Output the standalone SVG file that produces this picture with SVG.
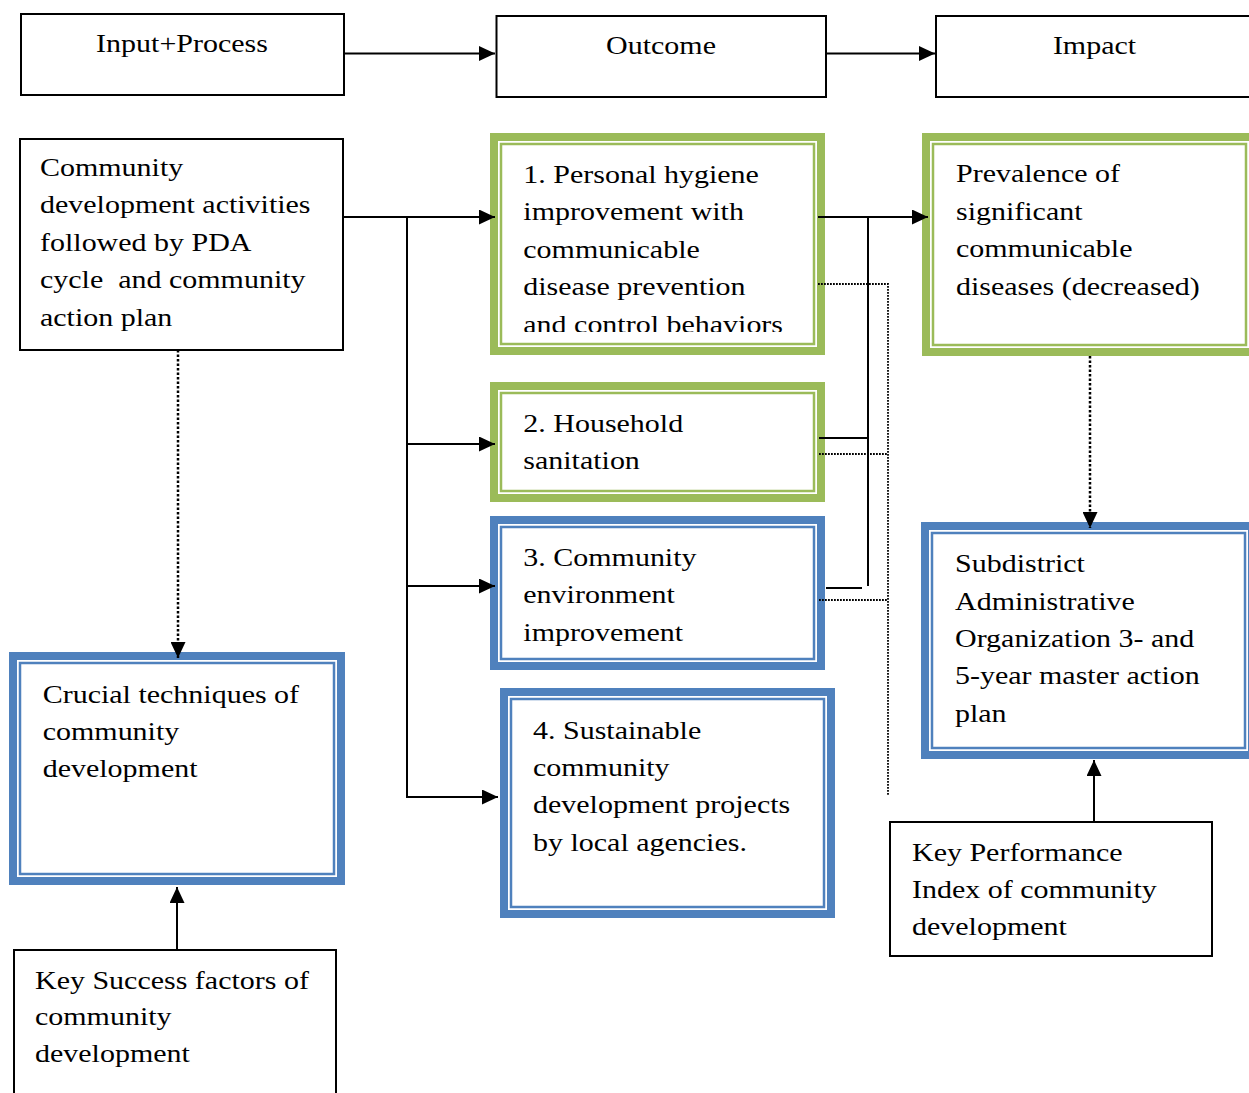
<svg xmlns="http://www.w3.org/2000/svg" width="1249" height="1093" viewBox="0 0 1249 1093">
<style>
.t{font-family:"Liberation Serif","Times New Roman",serif;font-size:25.2px;fill:#000}
.box{fill:#fff;stroke:#000;stroke-width:2}
.gk{fill:#fff;stroke:#9BBB59;stroke-width:8}
.gn{fill:none;stroke:#9BBB59;stroke-width:2.5}
.bk{fill:#fff;stroke:#4F81BD;stroke-width:8}
.bn{fill:none;stroke:#4F81BD;stroke-width:2.5}
.ln{fill:none;stroke:#000;stroke-width:2}
.dot{fill:none;stroke:#000;stroke-width:2.5;stroke-dasharray:2.5 2}
.fd{fill:none;stroke:#000;stroke-width:1.8;stroke-dasharray:1.8 1.2}
</style>
<defs>
<marker id="ah" markerUnits="userSpaceOnUse" markerWidth="16" markerHeight="15" refX="16" refY="7.5" orient="auto"><path d="M0,0 L16,7.5 L0,15 z" fill="#000"/></marker>
<clipPath id="c1"><rect x="501" y="144" width="313" height="188"/></clipPath>
</defs>

<g id="input-process">
<rect class="box" x="21" y="14" width="323" height="81"/>
<text class="t" text-anchor="middle" transform="translate(182,51.5) scale(1.19,1)">Input+Process</text>
</g>
<g id="outcome">
<rect class="box" x="496.5" y="16" width="329.5" height="81"/>
<text class="t" text-anchor="middle" transform="translate(661,53.5) scale(1.19,1)">Outcome</text>
</g>
<g id="impact">
<rect class="box" x="936" y="16" width="330" height="81"/>
<text class="t" text-anchor="middle" transform="translate(1094.5,53.5) scale(1.19,1)">Impact</text>
</g>

<g id="community-activities">
<rect class="box" x="20" y="139" width="323" height="211"/>
<text class="t" xml:space="preserve" transform="translate(40,175.7) scale(1.19,1)"><tspan x="0" y="0">Community</tspan><tspan x="0" y="37.5">development activities</tspan><tspan x="0" y="75">followed by PDA</tspan><tspan x="0" y="112.5">cycle  and community</tspan><tspan x="0" y="150">action plan</tspan></text>
</g>

<g id="outcome-1">
<rect class="gk" x="494" y="137" width="327" height="214"/>
<rect class="gn" x="501" y="144" width="313" height="200"/>
<g clip-path="url(#c1)">
<text class="t" transform="translate(523.3,183) scale(1.19,1)"><tspan x="0" y="0">1. Personal hygiene</tspan><tspan x="0" y="37.5">improvement with</tspan><tspan x="0" y="75">communicable</tspan><tspan x="0" y="112.5">disease prevention</tspan><tspan x="0" y="150">and control behaviors</tspan></text>
</g>
</g>

<g id="outcome-2">
<rect class="gk" x="494" y="386" width="327" height="112"/>
<rect class="gn" x="501" y="393" width="313" height="98"/>
<text class="t" transform="translate(523.3,431.5) scale(1.19,1)"><tspan x="0" y="0">2. Household</tspan><tspan x="0" y="37.5">sanitation</tspan></text>
</g>

<g id="outcome-3">
<rect class="bk" x="494" y="520" width="327" height="146"/>
<rect class="bn" x="501" y="527" width="313" height="132"/>
<text class="t" transform="translate(523.3,566) scale(1.19,1)"><tspan x="0" y="0">3. Community</tspan><tspan x="0" y="37.5">environment</tspan><tspan x="0" y="75">improvement</tspan></text>
</g>

<g id="outcome-4">
<rect class="bk" x="504" y="692" width="327" height="222"/>
<rect class="bn" x="511" y="699" width="313" height="208"/>
<text class="t" transform="translate(533,738.5) scale(1.19,1)"><tspan x="0" y="0">4. Sustainable</tspan><tspan x="0" y="37.5">community</tspan><tspan x="0" y="75">development projects</tspan><tspan x="0" y="112.5">by local agencies.</tspan></text>
</g>

<g id="crucial-techniques">
<rect class="bk" x="13" y="656" width="328" height="225"/>
<rect class="bn" x="20" y="663" width="314" height="211"/>
<text class="t" transform="translate(42.7,702.5) scale(1.19,1)"><tspan x="0" y="0">Crucial techniques of</tspan><tspan x="0" y="37.5">community</tspan><tspan x="0" y="75">development</tspan></text>
</g>

<g id="key-success">
<rect class="box" x="14" y="950" width="322" height="160"/>
<text class="t" transform="translate(35,988.5) scale(1.19,1)"><tspan x="0" y="0">Key Success factors of</tspan><tspan x="0" y="37">community</tspan><tspan x="0" y="74">development</tspan></text>
</g>

<g id="prevalence">
<rect class="gk" x="926" y="137" width="327" height="215"/>
<rect class="gn" x="933" y="144" width="313" height="201"/>
<text class="t" transform="translate(956,182) scale(1.19,1)"><tspan x="0" y="0">Prevalence of</tspan><tspan x="0" y="37.7">significant</tspan><tspan x="0" y="75.4">communicable</tspan><tspan x="0" y="113.1">diseases (decreased)</tspan></text>
</g>

<g id="subdistrict-plan">
<rect class="bk" x="925" y="526" width="327" height="229"/>
<rect class="bn" x="932" y="533" width="313" height="215"/>
<text class="t" transform="translate(955,572.3) scale(1.19,1)"><tspan x="0" y="0">Subdistrict</tspan><tspan x="0" y="37.4">Administrative</tspan><tspan x="0" y="74.8">Organization 3- and</tspan><tspan x="0" y="112.2">5-year master action</tspan><tspan x="0" y="149.6">plan</tspan></text>
</g>

<g id="key-performance">
<rect class="box" x="890" y="822" width="322" height="134"/>
<text class="t" transform="translate(912,860.5) scale(1.19,1)"><tspan x="0" y="0">Key Performance</tspan><tspan x="0" y="37.3">Index of community</tspan><tspan x="0" y="74.6">development</tspan></text>
</g>

<g id="connectors">
<path class="ln" d="M344,53.5 H495" marker-end="url(#ah)"/>
<path class="ln" d="M826,53.5 H935" marker-end="url(#ah)"/>
<path class="ln" d="M343,217 H495" marker-end="url(#ah)"/>
<path class="ln" d="M407,217 V797 H498" marker-end="url(#ah)"/>
<path class="ln" d="M407,444 H495" marker-end="url(#ah)"/>
<path class="ln" d="M407,586 H495" marker-end="url(#ah)"/>
<path class="dot" d="M178,350 V658" marker-end="url(#ah)"/>
<path class="ln" d="M177,950 V887" marker-end="url(#ah)"/>
<path class="ln" d="M818,217 H928" marker-end="url(#ah)"/>
<path class="ln" d="M868,217 V586"/>
<path class="ln" d="M819,438 H868"/>
<path class="ln" d="M826,588 H862"/>
<path class="fd" d="M818,284 H888 V796"/>
<path class="fd" d="M819,454 H888"/>
<path class="fd" d="M819,600 H888"/>
<path class="dot" d="M1090,356 V528" marker-end="url(#ah)"/>
<path class="ln" d="M1094,822 V760" marker-end="url(#ah)"/>
</g>
</svg>
